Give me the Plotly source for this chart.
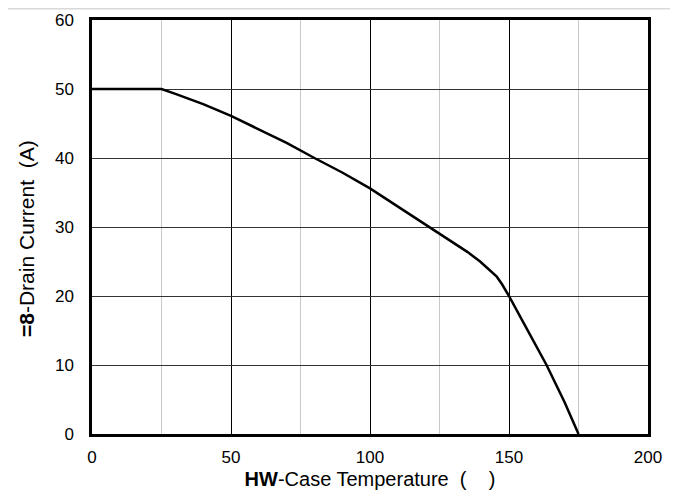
import plotly.graph_objects as go

# Case temperature (°C) and drain current (A)
temperature = [0, 25, 30, 40, 50, 60, 70, 80, 90, 100, 110, 121.6, 128.8, 135, 139.6, 142.5, 145.6, 147.5, 150, 155, 160, 163.5, 170, 175]
drain_current = [50, 50, 49.3, 47.8, 46.1, 44.2, 42.2, 40.0, 37.9, 35.6, 33.0, 30.0, 28.1, 26.4, 25.0, 24.0, 22.8, 21.7, 20.0, 16.3, 12.6, 10.0, 4.6, 0]

x_ticks = [0, 50, 100, 150, 200]
y_ticks = [0, 10, 20, 30, 40, 50, 60]

W, H = 670, 495
L, T = 84, 12
PW, PH = 556, 414
R, B = W - L - PW, H - T - PH

fig = go.Figure()
fig.add_trace(go.Scatter(x=temperature, y=drain_current, mode="lines",
                         line=dict(color="black", width=2.5, shape="linear"), showlegend=False))

font = "Liberation Sans, Arial, sans-serif"
fig.update_layout(
    width=W, height=H,
    margin=dict(l=L, r=R, t=T, b=B, autoexpand=False),
    paper_bgcolor="white", plot_bgcolor="white",
    font=dict(family=font, size=17, color="black"),
    xaxis=dict(range=[0, 200], tickvals=x_ticks, showgrid=True, gridcolor="black", gridwidth=1,
               minor=dict(dtick=25, tick0=0, showgrid=True, gridcolor="#c8c8c8", gridwidth=1),
               showline=True, linecolor="black", linewidth=2.5, mirror=True, automargin=False,
               ticks="", ticklabelstandoff=6, zeroline=False,
               title=dict(text="<b>HW</b>-Case Temperature  (    )", font=dict(size=20), standoff=6)),
    yaxis=dict(range=[0, 60], tickvals=y_ticks, showgrid=True, gridcolor="#333333", gridwidth=1,
               showline=True, linecolor="black", linewidth=2.5, mirror=True, automargin=False,
               ticks="", ticklabelstandoff=12, zeroline=False,
               title=dict(text="<b>=8</b>-Drain Current  (A)&nbsp;&nbsp;&nbsp;&nbsp;",
                          font=dict(size=21), standoff=15)),
)

def px(xp): return (xp - L) / PW
def py(yp): return (H - B - yp) / PH

fig.add_shape(type="line", xref="paper", yref="paper", x0=px(0), x1=px(W), y0=py(0.5), y1=py(0.5),
              line=dict(color="#d9d9d9", width=2), layer="below")

fig.write_html("out.html")
